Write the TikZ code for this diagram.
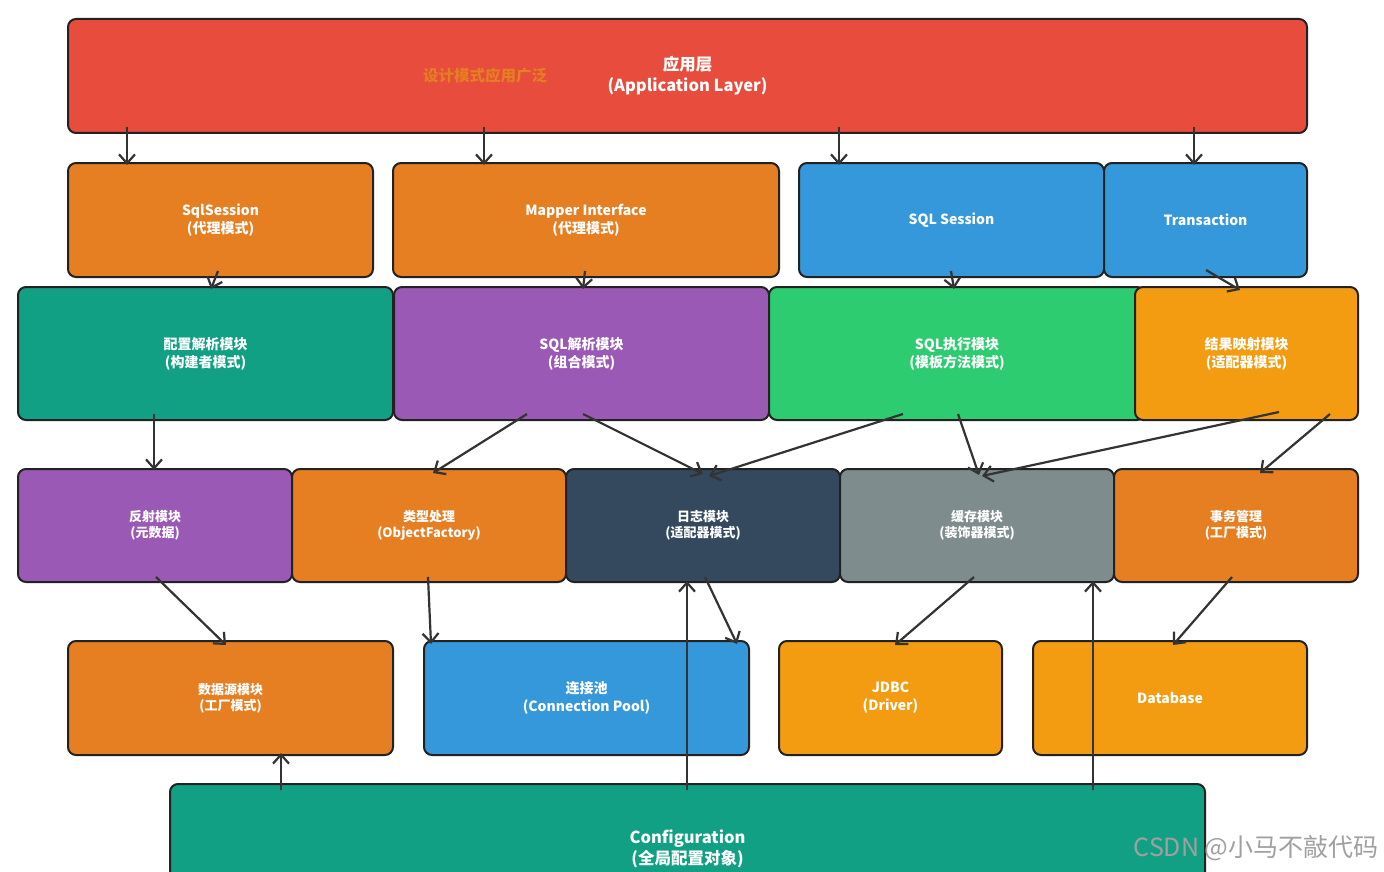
\documentclass[tikz,border=0pt]{standalone}
\usepackage{fontspec}
\setmainfont{Noto Sans CJK SC}
\usetikzlibrary{arrows.meta, calc}
\definecolor{mbred}{HTML}{E74C3C}
\definecolor{mborange}{HTML}{E67E22}
\definecolor{mbamber}{HTML}{F39C12}
\definecolor{mbblue}{HTML}{3498DB}
\definecolor{mbteal}{HTML}{12A085}
\definecolor{mbpurple}{HTML}{9B59B6}
\definecolor{mbgreen}{HTML}{2ECC71}
\definecolor{mbnavy}{HTML}{34495E}
\definecolor{mbgray}{HTML}{7F8C8D}
\definecolor{mbline}{HTML}{222222}
\definecolor{mbarrow}{HTML}{333333}
\definecolor{mbmark}{HTML}{A0A0A0}

\begin{document}
\begin{tikzpicture}[x=1pt, y=-1pt,
  box/.style={draw=mbline, line width=2pt, rounded corners=8pt, inner sep=0pt,
    text=white, align=center, font=\bfseries\fontsize{14}{18}\selectfont},
  smalltext/.style={font=\bfseries\fontsize{13}{16}\selectfont},
  bigtext/.style={font=\bfseries\fontsize{16.5}{21}\selectfont},
  flow/.style={draw=mbarrow, line width=2.2pt, -{Straight Barb[length=9pt,width=16pt]}}]
\useasboundingbox (0,0) rectangle (1384,872);
\clip (0,0) rectangle (1384,872);
\fill[white] (0,0) rectangle (1384,872);

% Application layer
\node[box, bigtext, fill=mbred, minimum width=1239pt, minimum height=114pt] (app) at (687.5,76) {应用层\\(Application Layer)};
\node[text=mborange, font=\bfseries\fontsize{15.5}{18}\selectfont] (apphint) at (485,76) {设计模式应用广泛};

% Interface row
\node[box, fill=mborange, minimum width=305pt, minimum height=114pt] (sqls) at (220.5,220) {SqlSession\\(代理模式)};
\node[box, fill=mborange, minimum width=386pt, minimum height=114pt] (mapper) at (586,220) {Mapper Interface\\(代理模式)};
\node[box, fill=mbblue, minimum width=305pt, minimum height=114pt] (sqlsess) at (951.5,220) {SQL Session};
\node[box, fill=mbblue, minimum width=203pt, minimum height=114pt] (trans) at (1205.5,220) {Transaction};

% Core modules
\node[box, fill=mbteal, minimum width=375pt, minimum height=133pt] (cfgparse) at (205.5,353.5) {配置解析模块\\(构建者模式)};
\node[box, fill=mbpurple, minimum width=375pt, minimum height=133pt] (sqlparse) at (581.5,353.5) {SQL解析模块\\(组合模式)};
\node[box, fill=mbgreen, minimum width=376pt, minimum height=133pt] (sqlexec) at (957,353.5) {SQL执行模块\\(模板方法模式)};
\node[box, fill=mbamber, minimum width=223pt, minimum height=133pt] (resmap) at (1246.5,353.5) {结果映射模块\\(适配器模式)};

% Support modules
\node[box, smalltext, fill=mbpurple, minimum width=274pt, minimum height=113pt] (reflect) at (155,525.5) {反射模块\\(元数据)};
\node[box, smalltext, fill=mborange, minimum width=274pt, minimum height=113pt] (typeh) at (429,525.5) {类型处理\\(ObjectFactory)};
\node[box, smalltext, fill=mbnavy, minimum width=274pt, minimum height=113pt] (logm) at (703,525.5) {日志模块\\(适配器模式)};
\node[box, smalltext, fill=mbgray, minimum width=274pt, minimum height=113pt] (cache) at (977,525.5) {缓存模块\\(装饰器模式)};
\node[box, smalltext, fill=mborange, minimum width=244pt, minimum height=113pt] (txm) at (1236,525.5) {事务管理\\(工厂模式)};

% Data access
\node[box, smalltext, fill=mborange, minimum width=325pt, minimum height=114pt] (ds) at (230.5,698) {数据源模块\\(工厂模式)};
\node[box, fill=mbblue, minimum width=325pt, minimum height=114pt] (pool) at (586.5,698) {连接池\\(Connection Pool)};
\node[box, fill=mbamber, minimum width=223pt, minimum height=114pt] (jdbc) at (890.5,698) {JDBC\\(Driver)};
\node[box, fill=mbamber, minimum width=274pt, minimum height=114pt] (db) at (1170,698) {Database};

% Configuration
\node[box, bigtext, fill=mbteal, minimum width=1035pt, minimum height=130pt] (conf) at (687.5,849) {Configuration\\(全局配置对象)};

% Arrows from the application layer
\foreach \sx/\tgt/\tx in {60/sqls/60, 417/mapper/92, 772/sqlsess/41, 1127/trans/91} {
  \draw[flow] ($(app.south west)+(\sx,-7)$) -- ($(\tgt.north west)+(\tx,3)$);
}
% Interface row to core modules
\draw[flow] ($(sqls.south west)+(151,-7)$) -- ($(cfgparse.north west)+(194,3)$);
\draw[flow] ($(mapper.south west)+(193,-7)$) -- ($(sqlparse.north west)+(190,3)$);
\draw[flow] ($(sqlsess.south west)+(153,-7)$) -- ($(sqlexec.north west)+(186,3)$);
\draw[flow] ($(trans.south west)+(103,-8)$) -- ($(resmap.north west)+(106,4)$);
% Core modules to support modules
\draw[flow] ($(cfgparse.south west)+(137,-7)$) -- ($(reflect.north west)+(137,2)$);
\draw[flow] ($(sqlparse.south west)+(134,-7)$) -- ($(typeh.north west)+(142,5)$);
\draw[flow] ($(sqlparse.south west)+(190,-7)$) -- ($(logm.north west)+(138,6)$);
\draw[flow] ($(sqlexec.south west)+(135,-7)$) -- ($(logm.north west)+(144,8)$);
\draw[flow] ($(sqlexec.south west)+(190,-7)$) -- ($(cache.north west)+(140,7)$);
\draw[flow] ($(resmap.south west)+(145,-9)$) -- ($(cache.north west)+(143,8)$);
\draw[flow] ($(resmap.south west)+(196,-7)$) -- ($(txm.north west)+(147,5)$);
% Support modules to data access
\draw[flow] ($(reflect.south west)+(139,-6)$) -- ($(ds.north west)+(159,5)$);
\draw[flow] ($(typeh.south west)+(137,-6)$) -- ($(pool.north west)+(8,4)$);
\draw[flow] ($(logm.south west)+(140,-6)$) -- ($(pool.north west)+(314,4)$);
\draw[flow] ($(cache.south west)+(135,-6)$) -- ($(jdbc.north west)+(117,5)$);
\draw[flow] ($(txm.south west)+(119,-6)$) -- ($(db.north west)+(141,5)$);
% Configuration feeds upward
\draw[flow] ($(conf.north west)+(112,7)$) -- ($(ds.south west)+(214,-3)$);
\draw[flow] ($(conf.north west)+(518,7)$) -- ($(logm.south west)+(122,-2)$);
\draw[flow] ($(conf.north west)+(924,7)$) -- ($(cache.south west)+(254,-2)$);

% Watermark
\node[text=mbmark, font=\fontsize{25}{28}\selectfont, anchor=east] (wmark) at (1382,848) {CSDN @小马不敲代码};
\end{tikzpicture}
\end{document}
